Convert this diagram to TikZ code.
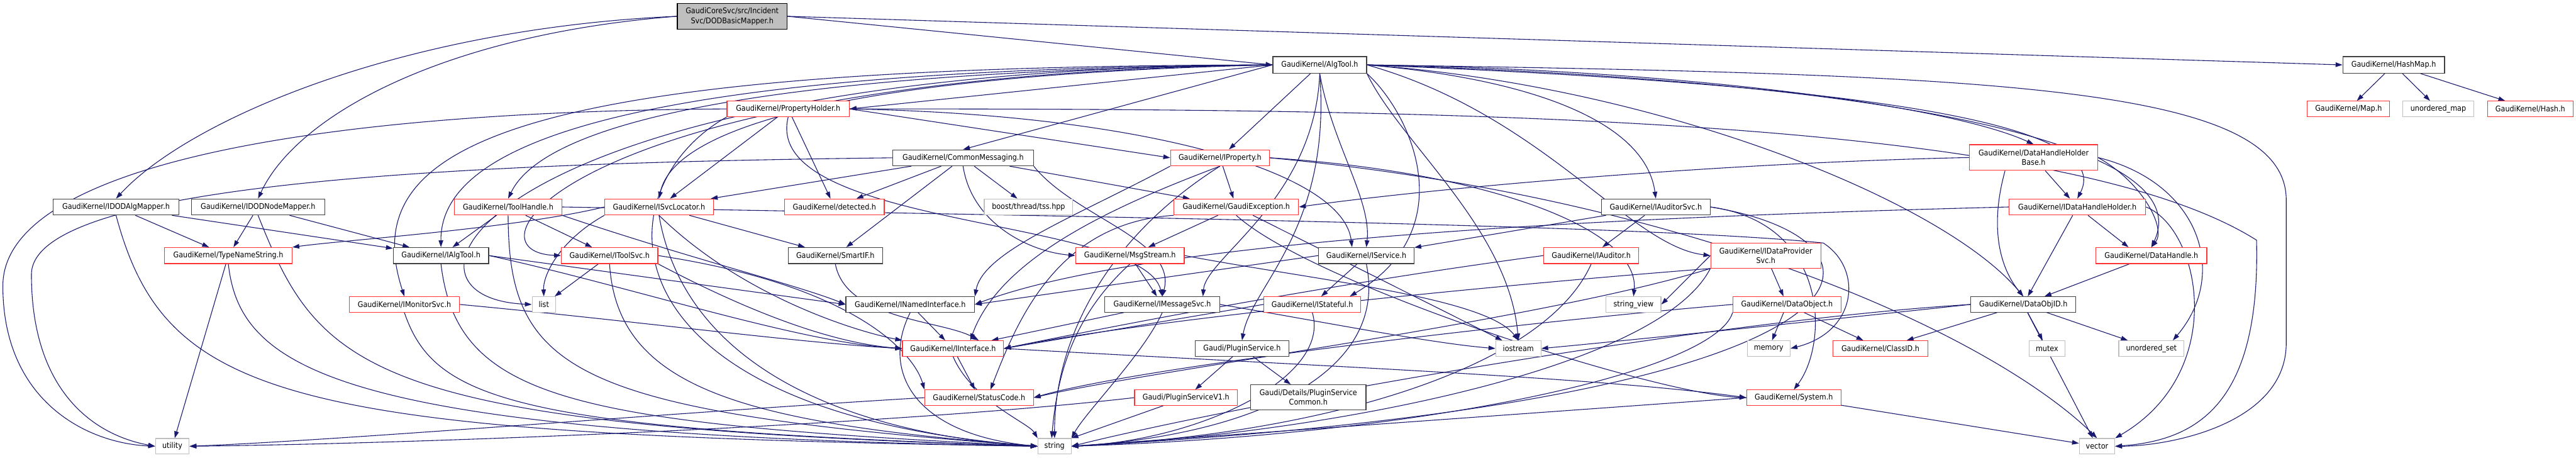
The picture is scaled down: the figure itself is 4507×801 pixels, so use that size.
\documentclass[tikz,border=0pt]{standalone}
\usepackage{fontspec}
\setmainfont{DejaVu Sans}[FakeStretch=0.9]
\usetikzlibrary{arrows.meta}
\definecolor{edgec}{HTML}{191970}
\definecolor{redb}{HTML}{FF3333}
\definecolor{blkb}{HTML}{404040}
\definecolor{grayb}{HTML}{BFBFBF}
\pgfdeclarelayer{bg}
\pgfsetlayers{bg,main}
\newcommand\bx[7]{\node[#1,minimum width={(#4)-(#3)},minimum height={(#6)-(#5)}] (#2) at ({((#3)+(#4))/2},{((#5)+(#6))/2}) {#7};}
\begin{document}
\begin{tikzpicture}[x=1pt,y=-1pt,
  base/.style={draw, line width=1.3pt, inner sep=0pt, font=\fontsize{13.7}{17}\selectfont, align=center, fill=white, text=black},
  redbox/.style={base, draw=redb},
  blkbox/.style={base, draw=blkb},
  grybox/.style={base, draw=grayb},
  rootbox/.style={base, draw=black, fill=grayb},
  ed/.style={draw=edgec, line width=1.2pt, -{Triangle[length=12pt,width=8pt]}}]
\begin{pgfonlayer}{bg}
\fill[white] (0,0) rectangle (4507,801);
\end{pgfonlayer}
\useasboundingbox (0,0) rectangle (4507,801);
% nodes
\bx{rootbox}{root}{1185}{1377}{6}{51}{GaudiCoreSvc/src/Incident\\Svc/DODBasicMapper.h}
\bx{blkbox}{algtool}{2227}{2391}{99}{128}{GaudiKernel/AlgTool.h}
\bx{blkbox}{hashmap}{4099}{4277}{99}{128}{GaudiKernel/HashMap.h}
\bx{redbox}{propholder}{1272}{1486}{177}{204}{GaudiKernel/PropertyHolder.h}
\bx{redbox}{map}{4037}{4181}{177}{204}{GaudiKernel/Map.h}
\bx{grybox}{umap}{4204}{4328}{177}{204}{unordered\_map}
\bx{redbox}{hash}{4352}{4502}{177}{204}{GaudiKernel/Hash.h}
\bx{blkbox}{commsg}{1562}{1808}{262}{290}{GaudiKernel/CommonMessaging.h}
\bx{redbox}{iprop}{2048}{2221}{262}{290}{GaudiKernel/IProperty.h}
\bx{redbox}{dhhb}{3446}{3670}{253}{298}{GaudiKernel/DataHandleHolder\\Base.h}
\bx{blkbox}{idodalg}{93}{313}{348}{376}{GaudiKernel/IDODAlgMapper.h}
\bx{blkbox}{idodnode}{335}{568}{348}{376}{GaudiKernel/IDODNodeMapper.h}
\bx{redbox}{toolhandle}{795}{983}{348}{376}{GaudiKernel/ToolHandle.h}
\bx{redbox}{isvcloc}{1058}{1248}{348}{376}{GaudiKernel/ISvcLocator.h}
\bx{redbox}{detected}{1373}{1547}{348}{376}{GaudiKernel/detected.h}
\bx{grybox}{boost}{1722}{1877}{348}{376}{boost/thread/tss.hpp}
\bx{redbox}{gexc}{2054}{2272}{348}{376}{GaudiKernel/GaudiException.h}
\bx{blkbox}{iauditorsvc}{2802}{2992}{348}{376}{GaudiKernel/IAuditorSvc.h}
\bx{redbox}{idhh}{3515}{3754}{348}{376}{GaudiKernel/IDataHandleHolder.h}
\bx{redbox}{typename}{288}{511}{433}{461}{GaudiKernel/TypeNameString.h}
\bx{blkbox}{ialgtool}{688}{855}{433}{461}{GaudiKernel/IAlgTool.h}
\bx{redbox}{itoolsvc}{982}{1151}{433}{461}{GaudiKernel/IToolSvc.h}
\bx{blkbox}{smartif}{1379}{1544}{433}{461}{GaudiKernel/SmartIF.h}
\bx{redbox}{msgstream}{1882}{2072}{433}{461}{GaudiKernel/MsgStream.h}
\bx{blkbox}{iservice}{2307}{2474}{433}{461}{GaudiKernel/IService.h}
\bx{redbox}{iauditor}{2701}{2867}{433}{461}{GaudiKernel/IAuditor.h}
\bx{redbox}{idps}{2993}{3186}{425}{469}{GaudiKernel/IDataProvider\\Svc.h}
\bx{redbox}{datahandle}{3667}{3861}{433}{461}{GaudiKernel/DataHandle.h}
\bx{redbox}{imonitor}{611}{804}{519}{546}{GaudiKernel/IMonitorSvc.h}
\bx{grybox}{list}{931}{972}{519}{546}{list}
\bx{blkbox}{inamed}{1480}{1705}{519}{546}{GaudiKernel/INamedInterface.h}
\bx{blkbox}{imsgsvc}{1933}{2134}{519}{546}{GaudiKernel/IMessageSvc.h}
\bx{redbox}{istateful}{2211}{2381}{519}{546}{GaudiKernel/IStateful.h}
\bx{grybox}{strview}{2810}{2906}{519}{546}{string\_view}
\bx{redbox}{dataobj}{3032}{3221}{519}{546}{GaudiKernel/DataObject.h}
\bx{blkbox}{dataobjid}{3448}{3632}{519}{546}{GaudiKernel/DataObjID.h}
\bx{redbox}{iinterface}{1579}{1756}{596}{623}{GaudiKernel/IInterface.h}
\bx{blkbox}{pluginsvc}{2091}{2255}{596}{623}{Gaudi/PluginService.h}
\bx{grybox}{iostream}{2617}{2696}{596}{623}{iostream}
\bx{grybox}{memory}{3057}{3132}{596}{623}{memory}
\bx{redbox}{classid}{3207}{3373}{596}{623}{GaudiKernel/ClassID.h}
\bx{grybox}{mutex}{3550}{3613}{596}{623}{mutex}
\bx{grybox}{uset}{3707}{3821}{596}{623}{unordered\_set}
\bx{redbox}{statuscode}{1618}{1808}{682}{709}{GaudiKernel/StatusCode.h}
\bx{redbox}{psv1}{1985}{2165}{682}{709}{Gaudi/PluginServiceV1.h}
\bx{blkbox}{pscommon}{2188}{2390}{673}{717}{Gaudi/Details/PluginService\\Common.h}
\bx{redbox}{system}{3056}{3221}{682}{709}{GaudiKernel/System.h}
\bx{grybox}{utility}{272}{331}{767}{794}{utility}
\bx{grybox}{string}{1816}{1874}{767}{794}{string}
\bx{grybox}{vector}{3638}{3700}{767}{794}{vector}
% edges
\begin{pgfonlayer}{bg}
% root
\draw[ed] (root.west) .. controls (700,50) and (330,210) .. (idodalg.north);
\draw[ed] (root.west) .. controls (780,60) and (520,200) .. (idodnode.north);
\draw[ed] (root.east) -- (algtool.west);
\draw[ed] (root.east) -- (hashmap.west);
% hashmap
\draw[ed] (hashmap) -- (map);
\draw[ed] (hashmap) -- (umap);
\draw[ed] (hashmap) -- (hash);
% IDOD mappers
\draw[ed] (idodalg) -- (typename);
\draw[ed] (idodalg) -- (ialgtool);
\draw[ed] (idodalg.south) .. controls (290,700) and (500,760) .. (string.west);
\draw[ed] (idodnode) -- (typename);
\draw[ed] (idodnode) -- (ialgtool);
\draw[ed] (idodnode.south) .. controls (560,650) and (640,745) .. (string.west);
% AlgTool
\draw[ed] (algtool.west) -- (propholder.east);
\draw[ed] (algtool.west) -- (commsg.north);
\draw[ed] (algtool) -- (iprop);
\draw[ed] (algtool.west) .. controls (1100,120) and (770,250) .. (ialgtool.north);
\draw[ed] (algtool.west) .. controls (900,115) and (620,250) .. (imonitor.north);
\draw[ed] (algtool.west) .. controls (850,120) and (640,520) .. (list.west);
\draw[ed] (algtool.west) .. controls (1000,130) and (800,440) .. (itoolsvc.west);
\draw[ed] (algtool.west) .. controls (1300,125) and (950,220) .. (toolhandle.north);
\draw[ed] (algtool.west) .. controls (1500,130) and (1180,220) .. (isvcloc.north);
\draw[ed] (algtool.south) .. controls (2300,350) and (2110,450) .. ([xshift=-30pt]imsgsvc.north east);
\draw[ed] (algtool.south) .. controls (2330,250) and (2400,350) .. (iservice.north);
\draw[ed] (algtool.south east) .. controls (2470,200) and (2560,400) .. ([xshift=-20pt]istateful.north east);
\draw[ed] (algtool.south) .. controls (2330,400) and (2190,500) .. (pluginsvc.north);
\draw[ed] (algtool.east) .. controls (2700,140) and (2880,220) .. (iauditorsvc.north);
\draw[ed] (algtool.east) .. controls (2700,200) and (2850,430) .. (idps.west);
\draw[ed] (algtool.south east) .. controls (2450,250) and (2640,400) .. (iostream.north);
\draw[ed] (algtool.east) .. controls (2900,120) and (3400,180) .. (dhhb.north);
\draw[ed] (algtool.east) .. controls (3300,150) and (3700,220) .. (idhh.north);
\draw[ed] (algtool.east) .. controls (3300,140) and (3850,250) .. (datahandle.north);
\draw[ed] (algtool.east) .. controls (2900,150) and (3400,350) .. (dataobjid.north);
\draw[ed] (algtool.east) .. controls (3500,130) and (4000,150) .. (4000,350) -- (4000,600) .. controls (4000,740) and (3800,780) .. (vector.east);
% PropertyHolder
\draw[ed] (propholder.west) .. controls (500,195) and (5,300) .. (5,500) .. controls (5,700) and (150,775) .. (utility.west);
\draw[ed] (propholder.east) -- (iprop.west);
\draw[ed] (propholder) -- (isvcloc);
\draw[ed] (propholder) -- (detected);
\draw[ed] (propholder.east) .. controls (2000,200) and (2350,300) .. ([xshift=-25pt]iservice.north);
\draw[ed] (propholder.east) .. controls (2500,190) and (3600,200) .. (3948,420) .. controls (3955,700) and (3850,770) .. (vector.east);
\draw[ed] (propholder.south) .. controls (1330,400) and (2000,380) .. (imsgsvc.north);
\draw[ed] (propholder.south west) .. controls (1050,330) and (1040,720) .. (string.west);
% CommonMessaging
\draw[ed] (commsg.west) .. controls (800,285) and (55,320) .. (55,480) .. controls (55,680) and (160,760) .. (utility.west);
\draw[ed] (commsg) -- (isvcloc);
\draw[ed] (commsg) -- (detected);
\draw[ed] (commsg) -- (boost);
\draw[ed] (commsg) -- (gexc);
\draw[ed] (commsg) -- (smartif);
\draw[ed] (commsg.south) .. controls (1700,390) and (1800,440) .. (msgstream.west);
\draw[ed] (commsg.south east) .. controls (1880,380) and (2060,420) .. (imsgsvc.north);
% IProperty
\draw[ed] (iprop) -- (gexc);
\draw[ed] (iprop.south) .. controls (1950,360) and (1750,450) .. ([xshift=30pt]iinterface.north);
\draw[ed] (iprop.south west) .. controls (1880,380) and (1720,440) .. (inamed.north east);
\draw[ed] (iprop.south) .. controls (1930,420) and (1845,600) .. (string.north);
\draw[ed] (iprop.east) .. controls (2600,300) and (2870,400) .. (strview.north);
\draw[ed] (iprop.east) .. controls (3000,350) and (3500,600) .. (vector.north);
% GaudiException
\draw[ed] (gexc) -- (msgstream);
\draw[ed] (gexc.south west) .. controls (1850,390) and (1780,560) .. ([xshift=20pt]statuscode.north);
\draw[ed] (gexc.south) .. controls (2300,500) and (2900,690) .. (system.west);
\draw[ed] (gexc) -- (iostream);
% DataHandleHolderBase
\draw[ed] (dhhb.west) .. controls (3000,285) and (2500,330) .. (gexc.east);
\draw[ed] (dhhb) -- (idhh);
\draw[ed] ([xshift=-50pt]dhhb.south) .. controls (3480,400) and (3500,470) .. (dataobjid.north);
\draw[ed] (dhhb.east) .. controls (3750,320) and (3790,400) .. (datahandle.north);
\draw[ed] (dhhb.east) .. controls (3850,320) and (3900,480) .. ([xshift=-20pt]uset.north east);
% IDataHandleHolder
\draw[ed] (idhh) -- ([xshift=-40pt]datahandle.north);
\draw[ed] (idhh) -- (dataobjid);
\draw[ed] (idhh.east) .. controls (3850,400) and (3900,650) .. (vector.north east);
\draw[ed] (idhh.west) .. controls (2800,380) and (2000,420) .. (inamed.east);
% DataHandle
\draw[ed] (datahandle) -- (dataobjid);
% DataObjID
\draw[ed] (dataobjid) -- (classid);
\draw[ed] (dataobjid) -- (mutex);
\draw[ed] (dataobjid) -- (uset);
\draw[ed] (dataobjid) -- (vector);
\draw[ed] (dataobjid.west) .. controls (3000,560) and (2200,700) .. (string.east);
\draw[ed] (dataobjid.west) .. controls (3100,570) and (2800,600) .. (iostream.east);
% DataObject
\draw[ed] (dataobj) -- (classid);
\draw[ed] (dataobj) -- (memory);
\draw[ed] (dataobj.south west) .. controls (3000,650) and (2500,760) .. (string.east);
\draw[ed] (dataobj.west) .. controls (2700,560) and (2000,640) .. (statuscode.east);
% IDataProviderSvc
\draw[ed] (idps) -- (dataobj);
\draw[ed] (idps.south west) .. controls (2600,500) and (2000,560) .. (iinterface.east);
\draw[ed] (idps.south west) .. controls (2700,560) and (2000,650) .. (statuscode.east);
\draw[ed] (idps.south west) .. controls (2900,650) and (2300,760) .. (string.east);
\draw[ed] (idps.west) -- (strview.east);
% IAuditorSvc
\draw[ed] (iauditorsvc) -- (iservice);
\draw[ed] (iauditorsvc) -- (iauditor);
\draw[ed] (iauditorsvc.east) .. controls (3200,390) and (3200,600) .. (system.north);
\draw[ed] (iauditorsvc.east) .. controls (3350,420) and (3350,700) .. (string.east);
% IAuditor
\draw[ed] (iauditor.west) .. controls (2300,500) and (1900,580) .. (iinterface.east);
\draw[ed] (iauditor.south) .. controls (2700,650) and (2300,760) .. (string.east);
% IService
\draw[ed] (iservice) -- (istateful);
\draw[ed] (iservice.west) -- (inamed.east);
\draw[ed] (iservice.south) .. controls (2430,650) and (2200,760) .. (string.east);
% IStateful
\draw[ed] (istateful.west) -- (iinterface.east);
\draw[ed] (istateful.south) .. controls (2330,660) and (2100,770) .. (string.east);
% IMessageSvc
\draw[ed] (imsgsvc) -- (iinterface);
\draw[ed] (imsgsvc.south) .. controls (2000,620) and (1900,720) .. (string.north east);
\draw[ed] (imsgsvc.east) .. controls (2300,560) and (2500,600) .. (iostream.west);
% MsgStream
\draw[ed] (msgstream) -- (imsgsvc);
\draw[ed] (msgstream.south) .. controls (1880,550) and (1850,650) .. ([xshift=-5pt]string.north);
\draw[ed] (msgstream.east) .. controls (2300,490) and (2600,520) .. (iostream.north);
% INamedInterface
\draw[ed] (inamed) -- (iinterface);
\draw[ed] (inamed.south) .. controls (1540,650) and (1600,760) .. (string.west);
% IInterface
\draw[ed] (iinterface) -- (statuscode);
\draw[ed] (iinterface.east) .. controls (2300,640) and (2800,660) .. (system.west);
\draw[ed] (iinterface.south) .. controls (1700,700) and (1800,740) .. (string.north west);
% StatusCode, PluginService, System, misc
\draw[ed] (statuscode.west) .. controls (1200,720) and (600,770) .. (utility.east);
\draw[ed] (pluginsvc) -- (psv1);
\draw[ed] (pluginsvc) -- (pscommon);
\draw[ed] (psv1.west) .. controls (1600,740) and (800,775) .. (utility.east);
\draw[ed] (psv1) -- (string.north east);
\draw[ed] (system) -- (vector);
\draw[ed] (system.west) -- (string.east);
\draw[ed] (typename) -- (utility);
\draw[ed] (typename.south) .. controls (420,650) and (600,760) .. (string.west);
% IAlgTool
\draw[ed] (ialgtool.east) -- (inamed.west);
\draw[ed] (ialgtool.east) .. controls (1100,500) and (1400,600) .. (iinterface.west);
\draw[ed] (ialgtool.south) .. controls (800,700) and (1000,740) .. (string.west);
% IToolSvc
\draw[ed] (itoolsvc) -- (list);
\draw[ed] (itoolsvc.south) .. controls (1080,680) and (1300,740) .. (string.west);
\draw[ed] (itoolsvc.south east) .. controls (1300,540) and (1450,600) .. (iinterface.west);
\draw[ed] (itoolsvc.east) .. controls (1500,500) and (1600,620) .. (statuscode.north west);
% SmartIF
\draw[ed] (smartif.south) .. controls (1480,560) and (1650,560) .. ([xshift=45pt]iinterface.north);
% ISvcLocator
\draw[ed] (isvcloc.west) .. controls (900,400) and (600,420) .. (typename.north east);
\draw[ed] (isvcloc.south west) .. controls (980,420) and (950,480) .. (list.north);
\draw[ed] (isvcloc) -- (smartif);
\draw[ed] (isvcloc.south) .. controls (1300,520) and (1500,580) .. (iinterface.north west);
\draw[ed] (isvcloc.south) .. controls (1200,650) and (1500,760) .. (string.west);
% ToolHandle
\draw[ed] (toolhandle) -- (ialgtool);
\draw[ed] (toolhandle) -- (itoolsvc);
\draw[ed] (toolhandle.south) .. controls (890,650) and (1000,720) .. (string.west);
\draw[ed] (toolhandle.east) .. controls (2000,380) and (2900,395) .. (3190,425) .. controls (3260,470) and (3250,580) .. (memory.east);
\draw[ed] (toolhandle.south east) .. controls (1200,450) and (1400,500) .. (inamed.west);
% IMonitorSvc
\draw[ed] (imonitor.east) .. controls (1100,560) and (1400,600) .. (iinterface.west);
\draw[ed] (imonitor.south) .. controls (760,700) and (900,750) .. (string.west);
\end{pgfonlayer}
\end{tikzpicture}
\end{document}
